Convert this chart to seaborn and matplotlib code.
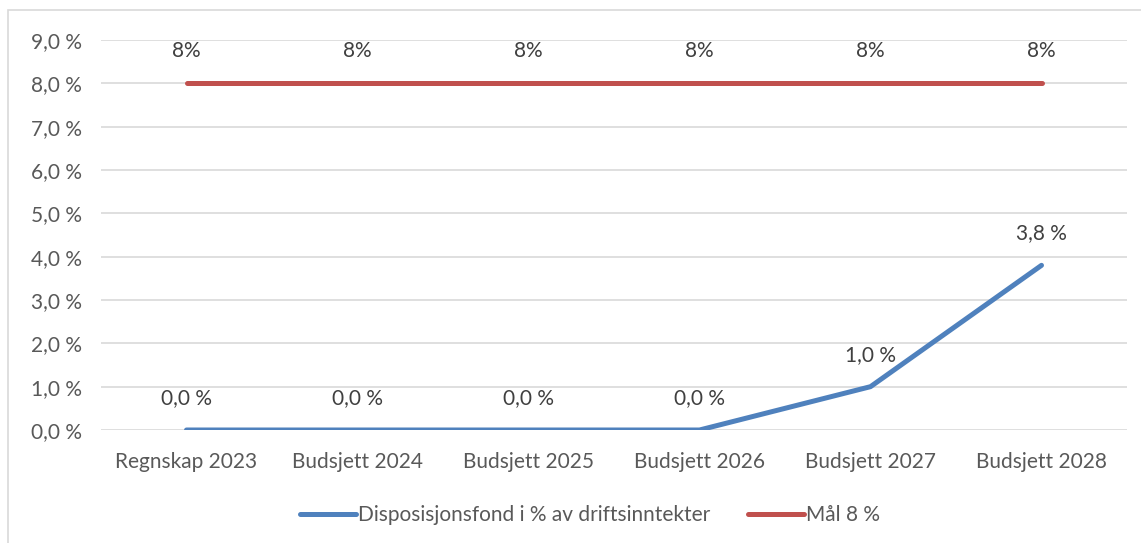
import matplotlib
matplotlib.use("Agg")
import matplotlib.pyplot as plt
import seaborn as sns
import pandas as pd
from matplotlib.patches import Rectangle
from matplotlib.ticker import FuncFormatter

# data
categories = ["Regnskap 2023", "Budsjett 2024", "Budsjett 2025",
              "Budsjett 2026", "Budsjett 2027", "Budsjett 2028"]
fond_pct = [0.0, 0.0, 0.0, 0.0, 1.0, 3.8]
maal_pct = [8.0, 8.0, 8.0, 8.0, 8.0, 8.0]
fond_label = "Disposisjonsfond i % av driftsinntekter"
maal_label = "Mål 8 %"

BLUE = "#4F81BD"
RED = "#C0504D"
TXT = "#595959"
FS = 15

sns.set_theme(style="white")
plt.rcParams["font.family"] = ["Lato", "DejaVu Sans"]

df = pd.DataFrame({"kategori": categories, "fond": fond_pct, "maal": maal_pct})

fig = plt.figure(figsize=(11.41, 5.43), dpi=100)
ax = fig.add_axes([101 / 1141, 1 - 430 / 543, 1026 / 1141, 390 / 543])

# outer chart border like the Excel chart area
fig.patches.append(Rectangle((8 / 1141, -0.01), 1.02, 1 - 10 / 543 + 0.01,
                             transform=fig.transFigure, fill=False,
                             edgecolor="#D9D9D9", linewidth=1.2))

sns.lineplot(data=df, x="kategori", y="fond", ax=ax, color=BLUE, linewidth=3.6,
             sort=False, label=fond_label, solid_capstyle="round")
sns.lineplot(data=df, x="kategori", y="maal", ax=ax, color=RED, linewidth=3.6,
             sort=False, label=maal_label, solid_capstyle="round")

# data labels
for i, v in enumerate(fond_pct):
    ax.annotate(f"{v:.1f} %".replace(".", ","), (i, v), xytext=(0, 23),
                textcoords="offset points", ha="center", va="center",
                fontsize=FS, color="#404040")
for i, v in enumerate(maal_pct):
    ax.annotate(f"{v:.0f}%", (i, v), xytext=(0, 23),
                textcoords="offset points", ha="center", va="center",
                fontsize=FS, color="#404040")

ax.set_xlim(-0.5, len(categories) - 0.5)
ax.set_ylim(0, 9)
ax.set_yticks(range(0, 10))
ax.yaxis.set_major_formatter(FuncFormatter(lambda y, _: f"{y:.1f} %".replace(".", ",")))
ax.grid(axis="y", color="#D9D9D9", linewidth=1.2)
ax.set_axisbelow(True)
for s in ax.spines.values():
    s.set_visible(False)
ax.tick_params(axis="both", length=0, labelsize=FS, labelcolor=TXT)
ax.tick_params(axis="y", pad=14)
ax.tick_params(axis="x", pad=16)
ax.set_xlabel("")
ax.set_ylabel("")

leg = ax.legend(loc="center", bbox_to_anchor=(590 / 1141, 1 - 515 / 543),
                bbox_transform=fig.transFigure, ncol=2, frameon=False,
                fontsize=FS, handlelength=2.7, handletextpad=0.1,
                columnspacing=1.8)
for t in leg.get_texts():
    t.set_color(TXT)

fig.savefig("out.png", dpi=100)
